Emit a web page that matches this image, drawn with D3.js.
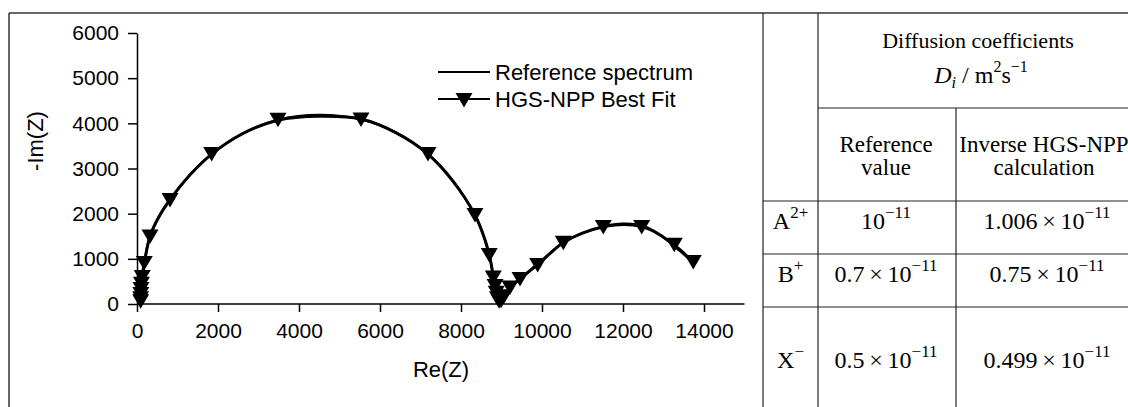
<!DOCTYPE html>
<html>
<head>
<meta charset="utf-8">
<script src="https://cdn.jsdelivr.net/npm/d3@7"></script>
<style>
  body { margin: 0; background: #fff; }
  svg { display: block; }
</style>
</head>
<body>
<svg id="chart" width="1128" height="407"></svg>
<script>
// Nyquist plot, values
const refRe = [100, 105, 120, 180, 321, 520, 815, 1300, 1844, 2600, 3480, 4500, 5530, 6400, 7170, 7800, 8345, 8600, 8720, 8800, 8860, 8920, 8970, 9050, 9209, 9457, 9893, 10200, 10526, 11000, 11513, 12000, 12461, 12900, 13266, 13500, 13735];
const refIm = [0, 250, 550, 900, 1500, 1900, 2310, 2850, 3320, 3770, 4070, 4155, 4095, 3790, 3330, 2720, 1970, 1400, 1000, 600, 300, 100, 40, 120, 350, 560, 880, 1120, 1360, 1570, 1710, 1770, 1735, 1540, 1290, 1110, 920];

const fitRe = [90, 90, 95, 100, 110, 130, 180, 321, 815, 1844, 3481, 5531, 7185, 8345, 8698, 8797, 8840, 8870, 8900, 8940, 8990, 9060, 9209, 9457, 9893, 10526, 11513, 12461, 13266, 13735];
const fitIm = [60, 130, 220, 330, 450, 600, 908, 1494, 2303, 3321, 4080, 4085, 3321, 1970, 1085, 587, 400, 250, 130, 60, 70, 170, 365, 553, 863, 1357, 1705, 1705, 1313, 930];

const xTicks = d3.range(0, 14001, 2000);
const xMinor = d3.range(0, 15001, 1000);
const yTicks = d3.range(0, 6001, 1000);
const yMinor = d3.range(0, 6001, 500);
const legendLabels = ['Reference spectrum', 'HGS-NPP Best Fit'];

// table next to the plot
const headTitle = 'Diffusion coefficients';
const colHeads = [['Reference', 'value'], ['Inverse HGS-NPP', 'calculation']];
const ions = ['A', 'B', 'X'];
const charges = ['2+', '+', '\u2212'];
const refMant = ['', '0.7\u2009\u00d7\u2009', '0.5\u2009\u00d7\u2009'];
const calcMant = ['1.006\u2009\u00d7\u2009', '0.75\u2009\u00d7\u2009', '0.499\u2009\u00d7\u2009'];
const expo = '\u221211';

const svg = d3.select('#chart');
const sans = 'Liberation Sans, Arial, Helvetica, sans-serif';
const serif = 'Liberation Serif, Times New Roman, serif';

svg.append('rect').attr('width', 1128).attr('height', 407).attr('fill', '#fff');

// outer frame
const frame = svg.append('g').attr('stroke', '#333').attr('stroke-width', 1.5);
frame.append('line').attr('x1', 9).attr('x2', 1128).attr('y1', 13).attr('y2', 13);
frame.append('line').attr('x1', 9).attr('x2', 9).attr('y1', 13).attr('y2', 407);

// ---- plot ----
const x = d3.scaleLinear().domain([0, 15000]).range([137, 744.5]);
const y = d3.scaleLinear().domain([0, 6000]).range([304, 33]);

const gx = svg.append('g').attr('transform', 'translate(0,304)');
gx.call(d3.axisBottom(x).tickValues(xMinor).tickSize(4.5).tickFormat(''));
gx.call(d3.axisBottom(x).tickValues(xTicks).tickSize(8).tickPadding(11).tickSizeOuter(0).tickFormat(d3.format('d')));

const gy = svg.append('g').attr('transform', 'translate(137,0)');
gy.call(d3.axisLeft(y).tickValues(yMinor).tickSize(5).tickFormat(''));
gy.call(d3.axisLeft(y).tickValues(yTicks).tickSize(9).tickPadding(9).tickSizeOuter(0).tickFormat(d3.format('d')));

[gx, gy].forEach(g => {
  g.selectAll('path,line').attr('stroke', '#000').attr('stroke-width', 1.5);
  g.selectAll('text').attr('font-family', sans).attr('font-size', 21).attr('fill', '#000');
});
gx.selectAll('path.domain').attr('d', `M${x(0)},0H${x(15000)}`);

svg.append('text').attr('x', 441).attr('y', 377).attr('text-anchor', 'middle')
  .attr('font-family', sans).attr('font-size', 22).text('Re(Z)');
svg.append('text').attr('transform', 'translate(43,141) rotate(-90)').attr('text-anchor', 'middle')
  .attr('font-family', sans).attr('font-size', 22).text('-Im(Z)');

const refData = refRe.map((r, i) => [r, refIm[i]]);
const fitData = fitRe.map((r, i) => [r, fitIm[i]]);

svg.append('path').datum(refData)
  .attr('fill', 'none').attr('stroke', '#000').attr('stroke-width', 3)
  .attr('d', d3.line().x(d => x(d[0])).y(d => y(d[1])).curve(d3.curveCatmullRom));

svg.append('path').datum(fitData)
  .attr('fill', 'none').attr('stroke', '#000').attr('stroke-width', 2.2)
  .attr('d', d3.line().x(d => x(d[0])).y(d => y(d[1])).curve(d3.curveCatmullRom));

const tri = 'M-8.5,-7L8.5,-7L0,7.5Z';
svg.append('g').selectAll('path').data(fitData).join('path')
  .attr('transform', d => `translate(${x(d[0])},${y(d[1])})`)
  .attr('d', tri).attr('fill', '#000');

// legend
const leg = svg.append('g');
legendLabels.forEach((lab, i) => {
  const ly = 72 + i * 27;
  leg.append('line').attr('x1', 438).attr('x2', 490).attr('y1', ly).attr('y2', ly)
    .attr('stroke', '#000').attr('stroke-width', 2.2);
  if (i === 1) leg.append('path').attr('d', tri).attr('transform', `translate(464,${ly + 1})`);
  leg.append('text').attr('x', 495).attr('y', ly + 8).attr('font-family', sans)
    .attr('font-size', 22).text(lab);
});

// ---- table ----
const tcol = [763, 818, 956, 1138];
const trow = [13, 108, 201, 254, 307, 420];
const tl = svg.append('g').attr('stroke', '#222').attr('stroke-width', 1.2);
tl.append('line').attr('x1', tcol[0]).attr('x2', tcol[0]).attr('y1', 13).attr('y2', 407);
tl.append('line').attr('x1', tcol[1]).attr('x2', tcol[1]).attr('y1', 13).attr('y2', 407);
tl.append('line').attr('x1', tcol[2]).attr('x2', tcol[2]).attr('y1', trow[1]).attr('y2', 407);
tl.append('line').attr('x1', tcol[1]).attr('x2', 1128).attr('y1', trow[1]).attr('y2', trow[1]);
[trow[2], trow[3], trow[4]].forEach(ry =>
  tl.append('line').attr('x1', tcol[0]).attr('x2', 1128).attr('y1', ry).attr('y2', ry));

function rich(cx, by, parts, size, supSize) {
  const t = svg.append('text').attr('x', cx).attr('y', by).attr('text-anchor', 'middle')
    .attr('font-family', serif).attr('font-size', size).attr('fill', '#000');
  let shift = 0;
  parts.forEach(p => {
    const s = p.sup ? -11 : p.sub ? 5 : 0;
    t.append('tspan').attr('dy', s - shift)
      .attr('font-size', p.sup || p.sub ? supSize : size)
      .attr('font-style', p.it ? 'italic' : null)
      .text(p.t);
    shift = s;
  });
  return t;
}

const hc = (tcol[1] + tcol[3]) / 2;
rich(hc, 48, [{ t: headTitle }], 22, 16);
rich(hc + 3, 83, [{ t: 'D', it: true }, { t: 'i', it: true, sub: true }, { t: ' / m' }, { t: '2', sup: true }, { t: 's' }, { t: '\u22121', sup: true }], 24, 16);

colHeads.forEach((lines, j) => {
  const cx = j === 0 ? 886 : 1044;
  lines.forEach((ln, k) => rich(cx, 152 + k * 23, [{ t: ln }], 23, 16));
});

ions.forEach((ion, i) => {
  const mid = (trow[i + 2] + trow[i + 3]) / 2;
  const by = i < 2 ? mid + 1 : 368;
  rich((tcol[0] + tcol[1]) / 2, by, [{ t: ion }, { t: charges[i], sup: true }], 24, 17);
  rich(886, by, [{ t: refMant[i] + '10' }, { t: expo, sup: true }], 24, 17);
  rich(1047, by, [{ t: calcMant[i] + '10' }, { t: expo, sup: true }], 24, 17);
});
</script>
</body>
</html>
